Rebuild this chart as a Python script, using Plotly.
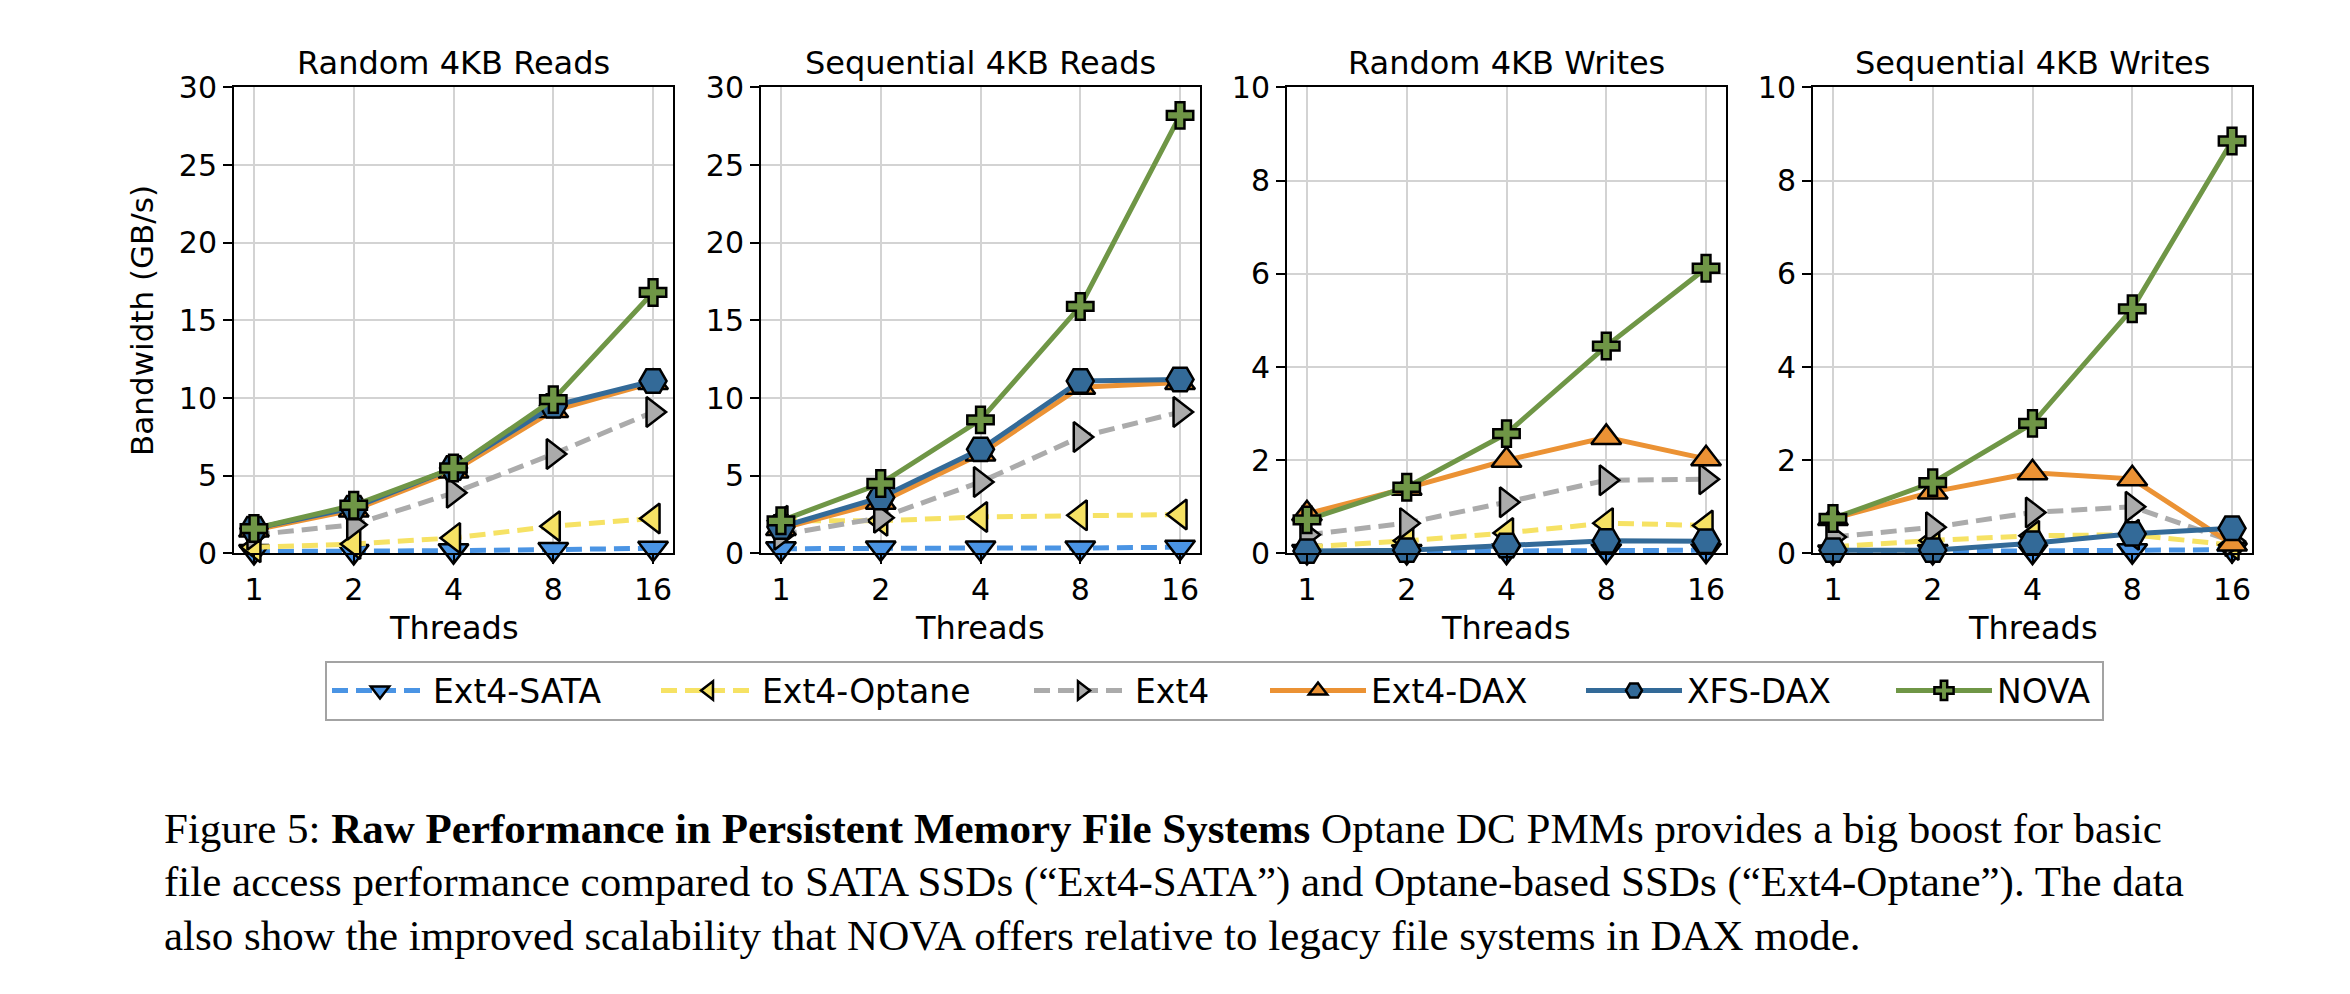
import plotly.graph_objects as go
import math

# ---------------- data ----------------
threads = [1, 2, 4, 8, 16]
thread_labels = ["1", "2", "4", "8", "16"]
series = ["Ext4-SATA", "Ext4-Optane", "Ext4", "Ext4-DAX", "XFS-DAX", "NOVA"]
panel_titles = ["Random 4KB Reads", "Sequential 4KB Reads",
                "Random 4KB Writes", "Sequential 4KB Writes"]

# rows follow `series` order, columns follow `threads`
rand_reads = [
    [0.12, 0.12, 0.18, 0.25, 0.33],
    [0.40, 0.60, 1.00, 1.75, 2.25],
    [1.20, 1.85, 3.90, 6.40, 9.10],
    [1.50, 2.80, 5.30, 9.20, 11.00],
    [1.60, 2.95, 5.50, 9.50, 11.10],
    [1.60, 3.10, 5.50, 9.90, 16.80],
]
seq_reads = [
    [0.30, 0.35, 0.35, 0.35, 0.40],
    [2.10, 2.10, 2.35, 2.45, 2.50],
    [1.20, 2.30, 4.60, 7.50, 9.10],
    [1.60, 3.30, 6.40, 10.70, 11.00],
    [1.70, 3.60, 6.70, 11.10, 11.20],
    [2.10, 4.50, 8.60, 15.90, 28.20],
]
rand_writes = [
    [0.04, 0.04, 0.05, 0.06, 0.07],
    [0.14, 0.27, 0.44, 0.65, 0.60],
    [0.40, 0.65, 1.10, 1.57, 1.59],
    [0.85, 1.40, 2.00, 2.49, 2.03],
    [0.05, 0.07, 0.17, 0.27, 0.26],
    [0.72, 1.42, 2.57, 4.45, 6.12],
]
seq_writes = [
    [0.03, 0.04, 0.05, 0.06, 0.08],
    [0.14, 0.28, 0.38, 0.40, 0.18],
    [0.35, 0.56, 0.88, 1.00, 0.26],
    [0.75, 1.32, 1.73, 1.60, 0.20],
    [0.07, 0.07, 0.22, 0.42, 0.54],
    [0.75, 1.52, 2.79, 5.25, 8.85],
]
panels = [rand_reads, seq_reads, rand_writes, seq_writes]
y_max = [30, 30, 10, 10]
y_step = [5, 5, 2, 2]

caption_lines = [
    "Figure 5: <b>Raw Performance in Persistent Memory File Systems</b> Optane DC PMMs provides a big boost for basic",
    "file access performance compared to SATA SSDs (\u201cExt4-SATA\u201d) and Optane-based SSDs (\u201cExt4-Optane\u201d). The data",
    "also show the improved scalability that NOVA offers relative to legacy file systems in DAX mode.",
]

# ---------------- style ----------------
W, H = 2350, 994
colors = ["#4a94e4", "#f6e264", "#ababab", "#eb9234", "#336a98", "#6f9646"]
symbols = ["triangle-down", "triangle-left", "triangle-right", "triangle-up", "hexagon2", "cross"]
msizes = [26, 26, 26, 26, 27, 22]
dashes = ["16px,8px", "16px,8px", "16px,8px", "solid", "solid", "solid"]
legend_w = [218, 262, 125, 205, 199, 100]

panel_left_px = [234, 761, 1287, 1813]
panel_w_px = 439
plot_top_px, plot_bot_px = 73, 556
FONT = "DejaVu Sans"

fig = go.Figure()

for p, data in enumerate(panels):
    ax = "" if p == 0 else str(p + 1)
    for s, name in enumerate(series):
        fig.add_trace(go.Scatter(
            x=threads, y=data[s], name=name,
            mode="lines+markers",
            xaxis="x" + ax, yaxis="y" + ax,
            line=dict(color=colors[s], width=5, dash=dashes[s]),
            marker=dict(symbol=symbols[s], size=msizes[s], color=colors[s],
                        line=dict(color="black", width=2.5)),
            showlegend=(p == 0), legendwidth=legend_w[s],
            cliponaxis=False,
        ))

layout = dict(
    width=W, height=H,
    margin=dict(l=0, r=0, t=0, b=0),
    paper_bgcolor="white", plot_bgcolor="white",
    font=dict(family=FONT, size=30, color="black"),
    showlegend=True,
    legend=dict(orientation="h", x=325 / W, xanchor="left",
                y=1 - 667 / H, yanchor="top",
                bordercolor="#a3a3a3", borderwidth=2, bgcolor="white",
                font=dict(family=FONT, size=33, color="black"),
                itemwidth=96, itemsizing="trace"),
)

lg = math.log10(2)
annotations = []
for p in range(4):
    ax = "" if p == 0 else str(p + 1)
    x0 = panel_left_px[p] / W
    x1 = (panel_left_px[p] + panel_w_px) / W
    layout["xaxis" + ax] = dict(
        domain=[x0, x1], anchor="y" + ax, type="log",
        range=[-0.2 * lg, 4.2 * lg],
        tickmode="array", tickvals=threads, ticktext=thread_labels,
        showgrid=True, gridcolor="#d3d3d3", gridwidth=2,
        showline=True, linecolor="black", linewidth=2, mirror=True,
        ticks="outside", ticklen=9, tickwidth=2, tickcolor="black",
        tickfont=dict(family=FONT, size=30, color="black"),
        zeroline=False,
    )
    layout["yaxis" + ax] = dict(
        domain=[1 - plot_bot_px / H, 1 - plot_top_px / H], anchor="x" + ax,
        range=[0, y_max[p]], dtick=y_step[p], tick0=0,
        showgrid=True, gridcolor="#d3d3d3", gridwidth=2,
        showline=True, linecolor="black", linewidth=2, mirror=True,
        ticks="outside", ticklen=9, tickwidth=2, tickcolor="black",
        tickfont=dict(family=FONT, size=30, color="black"),
        zeroline=False,
    )
    cx = (x0 + x1) / 2
    annotations.append(dict(text=panel_titles[p], x=cx, y=1 - 48 / H,
                            xref="paper", yref="paper", showarrow=False,
                            xanchor="center", yanchor="middle",
                            font=dict(family=FONT, size=32, color="black")))
    annotations.append(dict(text="Threads", x=cx, y=1 - 633 / H,
                            xref="paper", yref="paper", showarrow=False,
                            xanchor="center", yanchor="middle",
                            font=dict(family=FONT, size=32, color="black")))

annotations.append(dict(text="Bandwidth (GB/s)", x=142 / W, y=1 - 315 / H,
                        xref="paper", yref="paper", showarrow=False,
                        textangle=-90, xanchor="center", yanchor="middle",
                        font=dict(family=FONT, size=31, color="black")))

cap_y = [841, 897, 952]
for line, yy in zip(caption_lines, cap_y):
    annotations.append(dict(text=line, x=162 / W, y=1 - yy / H,
                            xref="paper", yref="paper", showarrow=False,
                            xanchor="left", yanchor="middle", align="left",
                            font=dict(family="Liberation Serif", size=43, color="black")))

layout["annotations"] = annotations
fig.update_layout(**layout)
fig.write_html("out.html")
